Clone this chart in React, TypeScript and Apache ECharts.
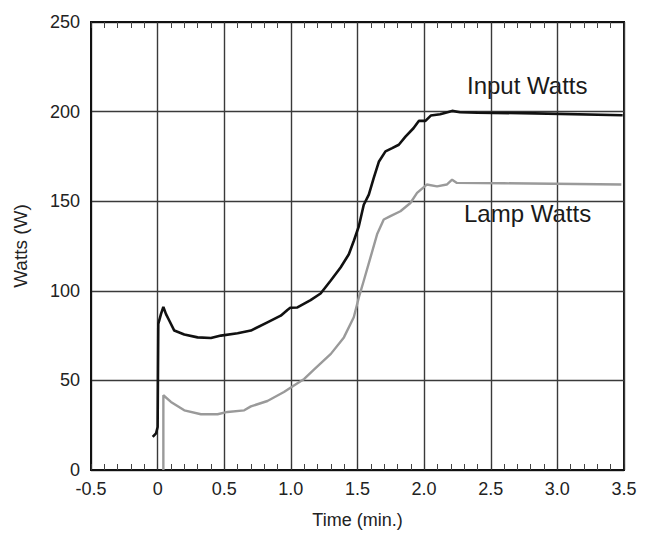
import React, { useEffect, useRef } from "react";
import * as echarts from "echarts";

const xTickLabels = ["-0.5", "0", "0.5", "1.0", "1.5", "2.0", "2.5", "3.0", "3.5"];
const yTickLabels = ["0", "50", "100", "150", "200", "250"];

const inputTime = [
  -0.037, -0.012, 0.0, 0.005, 0.025, 0.043, 0.063, 0.088, 0.125, 0.2, 0.3, 0.4, 0.475, 0.6,
  0.7, 0.824, 0.924, 0.974, 0.995, 1.049, 1.148, 1.223, 1.298, 1.373, 1.435, 1.472, 1.51,
  1.547, 1.585, 1.622, 1.66, 1.71, 1.76, 1.81, 1.86, 1.92, 1.96, 2.01, 2.05, 2.12, 2.21,
  2.27, 2.4, 2.83, 3.49,
];
const inputWatts = [
  18.5, 20.4, 24, 81.5, 87, 91, 87, 83.3, 77.8, 75.6, 74, 73.7, 75, 76.3,
  77.8, 82.4, 86.1, 89.3, 90.5, 90.7, 94.8, 98.5, 105.6, 113, 120.4, 127.8, 136,
  148, 153.7, 163, 172, 177.8, 179.6, 181.5, 186, 190.7, 194.8, 194.8, 197.8, 198.5, 200.4,
  199.6, 199.4, 199, 198,
];

const lampTime = [
  0.043, 0.0431, 0.1, 0.2, 0.325, 0.45, 0.525, 0.65, 0.7, 0.824, 0.948, 1.023, 1.1, 1.173,
  1.3, 1.398, 1.472, 1.51, 1.547, 1.597, 1.647, 1.697, 1.747, 1.822, 1.897, 1.947, 2.02,
  2.097, 2.17, 2.21, 2.246, 2.6, 3.48,
];
const lampWatts = [
  0, 41.7, 38, 33.3, 31.1, 31.1, 32.4, 33.3, 35.5, 38.5, 43.5, 47.2, 50.8, 56,
  64.8, 74, 85.2, 96.3, 105.6, 118.5, 131.5, 139.8, 141.7, 144.4, 149, 154.6, 159.3,
  158.3, 159.3, 162, 160.2, 160, 159.3,
];

const seriesNames = ["Input Watts", "Lamp Watts"];

export default function App() {
  const ref = useRef<HTMLDivElement>(null);
  useEffect(() => {
    if (!ref.current) return;
    const chart = echarts.init(ref.current, null, { renderer: "svg" });
    const font = "'Liberation Sans', Arial, Helvetica, sans-serif";
    const tickFmt = (v: number) => {
      const i = Math.round((v + 0.5) / 0.5);
      return xTickLabels[i] ?? "";
    };
    const axisCommon = {
      type: "value" as const,
      min: -0.5,
      max: 3.5,
      interval: 0.5,
    };
    chart.setOption({
      animation: false,
      backgroundColor: "#ffffff",
      grid: {
        left: 91,
        right: 22,
        top: 22,
        bottom: 65,
        show: true,
        borderColor: "#111",
        borderWidth: 2,
      },
      xAxis: [
        {
          ...axisCommon,
          position: "bottom",
          name: "Time (min.)",
          nameLocation: "middle",
          nameGap: 41,
          nameTextStyle: { fontFamily: font, fontSize: 18, color: "#222" },
          axisLine: { show: true, onZero: false, lineStyle: { color: "#111", width: 2 } },
          axisTick: { show: true, inside: true, length: 6, lineStyle: { color: "#333" } },
          minorTick: { show: true, splitNumber: 5, length: 6, lineStyle: { color: "#444", width: 1 } },
          axisLabel: {
            formatter: tickFmt,
            fontFamily: font,
            fontSize: 18,
            color: "#222",
            margin: 10,
          },
          splitLine: { show: true, lineStyle: { color: "#3a3a3a", width: 1.4 } },
        },
        {
          ...axisCommon,
          position: "top",
          axisLine: { show: true, onZero: false, lineStyle: { color: "#111", width: 2 } },
          axisTick: { show: true, inside: true, length: 6, lineStyle: { color: "#333" } },
          minorTick: { show: true, splitNumber: 5, length: 6, lineStyle: { color: "#444", width: 1 } },
          axisLabel: { show: false },
          splitLine: { show: false },
        },
      ],
      yAxis: {
        type: "value",
        min: 0,
        max: 250,
        interval: 50,
        name: "Watts (W)",
        nameLocation: "middle",
        nameGap: 61,
        nameTextStyle: { fontFamily: font, fontSize: 19, color: "#222" },
        axisLine: { show: true, onZero: false, lineStyle: { color: "#111", width: 2 } },
        axisTick: { show: false },
        axisLabel: {
          formatter: (v: number) => yTickLabels[Math.round(v / 50)] ?? "",
          fontFamily: font,
          fontSize: 18,
          color: "#222",
          margin: 11,
        },
        splitLine: { show: true, lineStyle: { color: "#3a3a3a", width: 1.4 } },
      },
      graphic: [
        {
          type: "text",
          left: 467,
          top: 73,
          style: { text: seriesNames[0], fontFamily: font, fontSize: 24, fill: "#1a1a1a" },
        },
        {
          type: "text",
          left: 464,
          top: 201,
          style: { text: seriesNames[1], fontFamily: font, fontSize: 24, fill: "#1a1a1a" },
        },
      ],
      series: [
        {
          name: seriesNames[1],
          type: "line",
          xAxisIndex: 0,
          showSymbol: false,
          data: lampTime.map((t, i) => [t, lampWatts[i]]),
          lineStyle: { color: "#9a9a9a", width: 2.4 },
          z: 3,
        },
        {
          name: seriesNames[0],
          type: "line",
          xAxisIndex: 0,
          showSymbol: false,
          data: inputTime.map((t, i) => [t, inputWatts[i]]),
          lineStyle: { color: "#111", width: 2.6 },
          z: 4,
        },
      ],
    });
    return () => chart.dispose();
  }, []);
  return (
    <div
      ref={ref}
      style={{ position: "fixed", left: 0, top: 0, width: 646, height: 535 }}
    />
  );
}
